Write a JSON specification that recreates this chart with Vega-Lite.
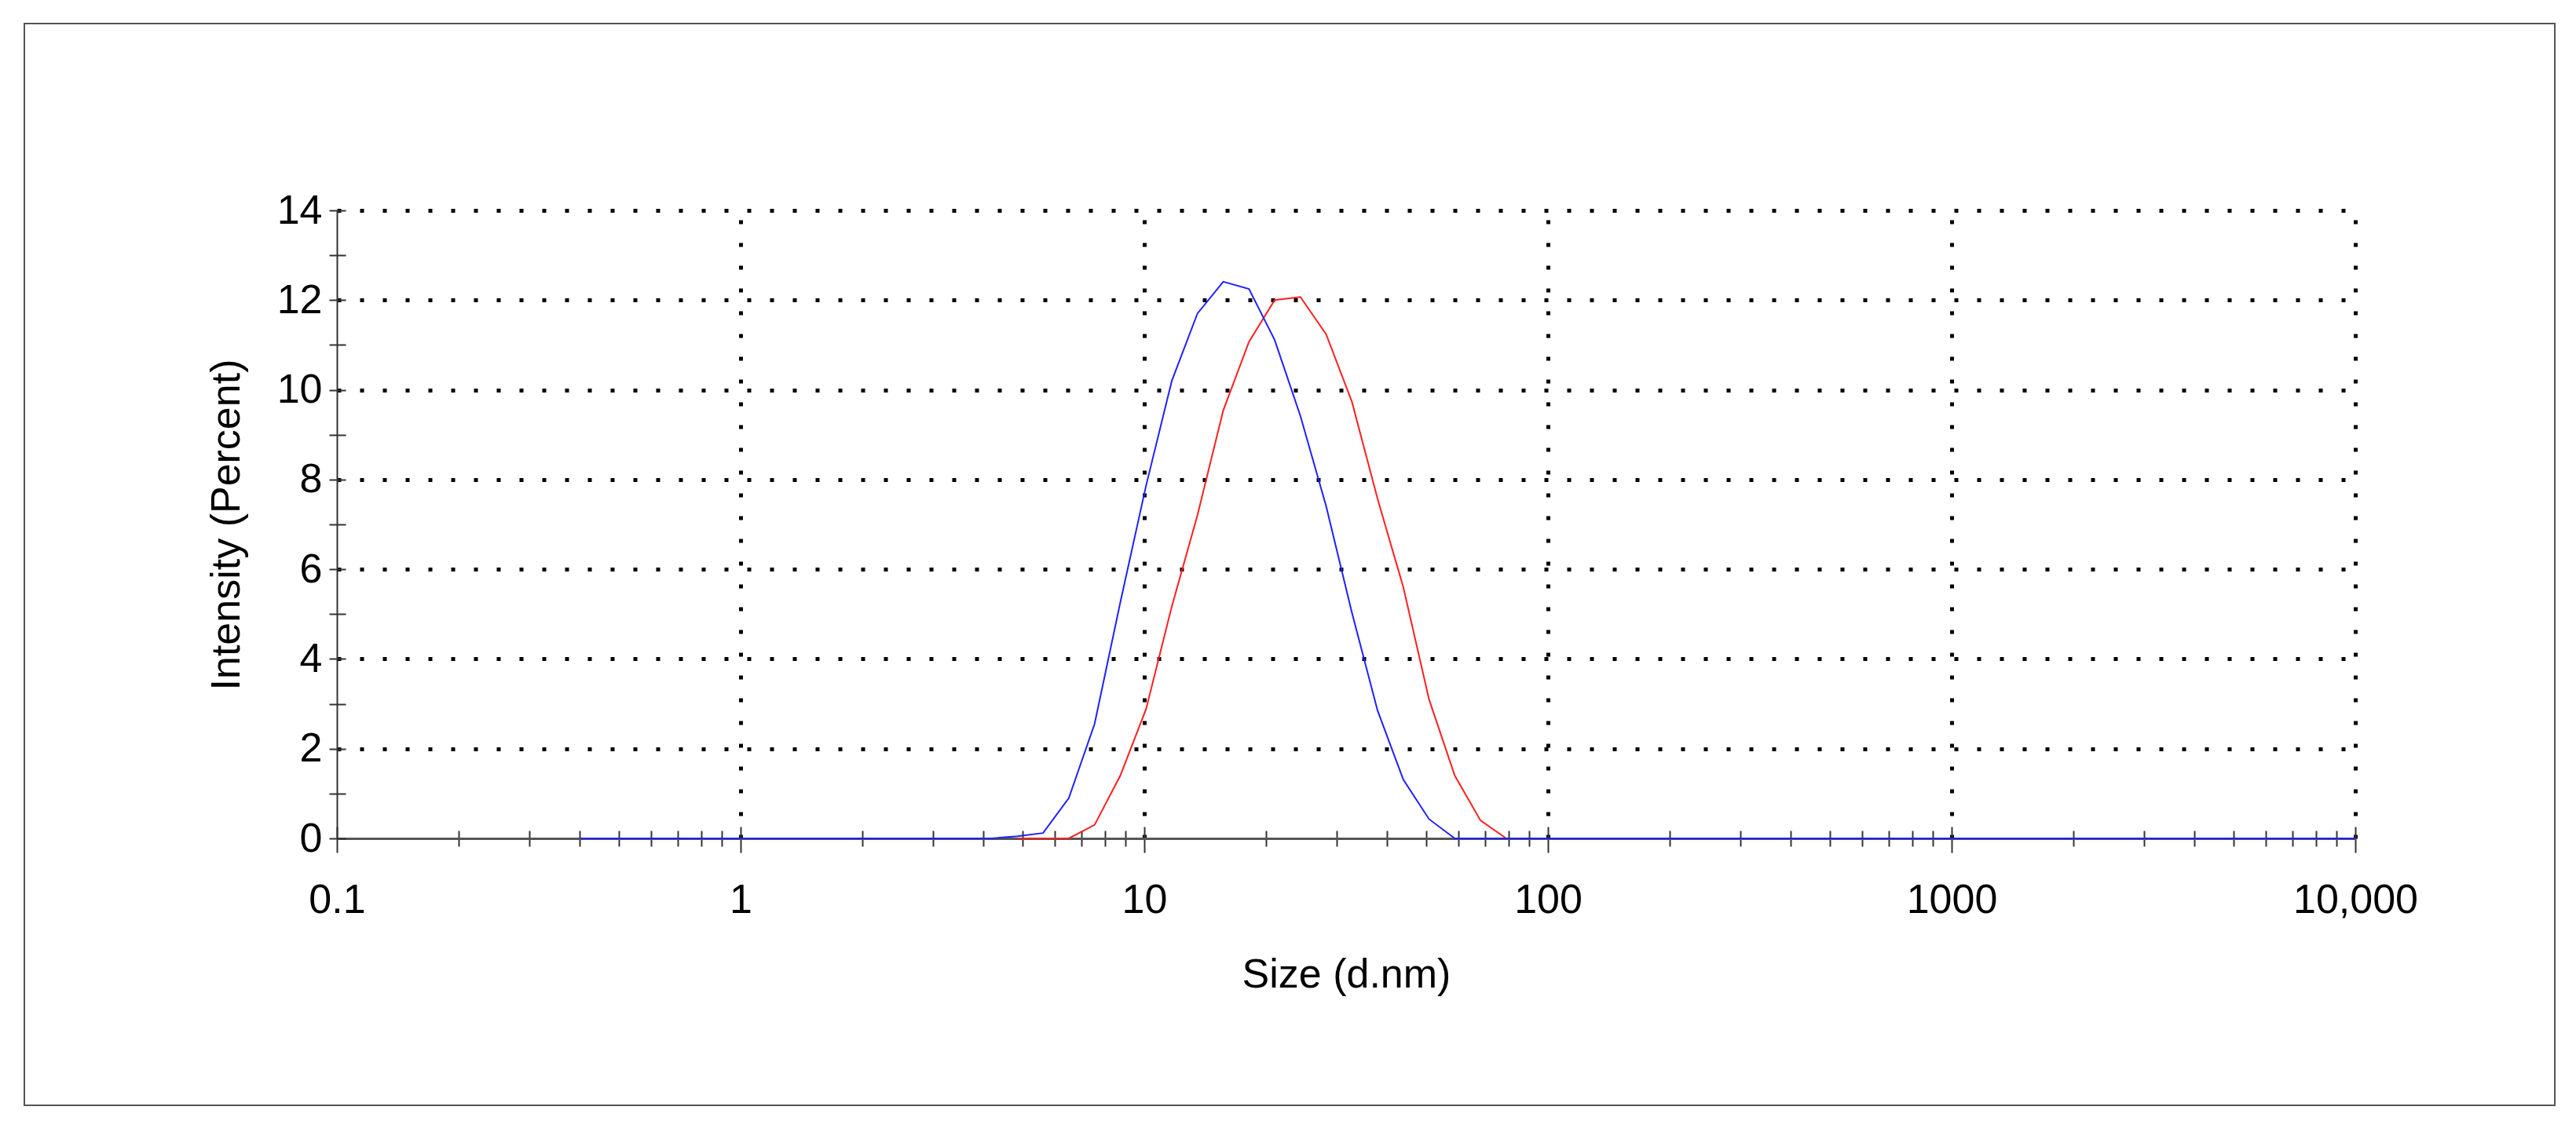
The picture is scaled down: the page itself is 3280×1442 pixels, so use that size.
{
  "$schema": "https://vega.github.io/schema/vega-lite/v6.json",
  "width": 3222,
  "height": 1378,
  "autosize": {"type": "none"},
  "padding": {"left": 31, "top": 30, "right": 27, "bottom": 34},
  "background": "white",
  "config": {
    "view": {"stroke": "#555555", "strokeWidth": 2},
    "font": "Liberation Sans",
    "axis": {"labelFont": "Liberation Sans", "titleFont": "Liberation Sans", "labelColor": "#000000", "titleColor": "#000000"}
  },
  "data": {
    "values": [
      {"series": "Red", "size": 4.849, "intensity": 0},
      {"series": "Red", "size": 5.615, "intensity": 0},
      {"series": "Red", "size": 6.503, "intensity": 0},
      {"series": "Red", "size": 7.531, "intensity": 0.3},
      {"series": "Red", "size": 8.721, "intensity": 1.4},
      {"series": "Red", "size": 10.1, "intensity": 2.88},
      {"series": "Red", "size": 11.7, "intensity": 5.17},
      {"series": "Red", "size": 13.54, "intensity": 7.2},
      {"series": "Red", "size": 15.69, "intensity": 9.54},
      {"series": "Red", "size": 18.17, "intensity": 11.07},
      {"series": "Red", "size": 21.04, "intensity": 12.0},
      {"series": "Red", "size": 24.36, "intensity": 12.07},
      {"series": "Red", "size": 28.21, "intensity": 11.24},
      {"series": "Red", "size": 32.67, "intensity": 9.74},
      {"series": "Red", "size": 37.84, "intensity": 7.57},
      {"series": "Red", "size": 43.82, "intensity": 5.6},
      {"series": "Red", "size": 50.75, "intensity": 3.1},
      {"series": "Red", "size": 58.77, "intensity": 1.4},
      {"series": "Red", "size": 68.06, "intensity": 0.4},
      {"series": "Red", "size": 78.82, "intensity": 0},
      {"series": "Blue", "size": 0.4, "intensity": 0},
      {"series": "Blue", "size": 0.4632, "intensity": 0},
      {"series": "Blue", "size": 0.5365, "intensity": 0},
      {"series": "Blue", "size": 0.6213, "intensity": 0},
      {"series": "Blue", "size": 0.7195, "intensity": 0},
      {"series": "Blue", "size": 0.8332, "intensity": 0},
      {"series": "Blue", "size": 0.9649, "intensity": 0},
      {"series": "Blue", "size": 1.117, "intensity": 0},
      {"series": "Blue", "size": 1.294, "intensity": 0},
      {"series": "Blue", "size": 1.499, "intensity": 0},
      {"series": "Blue", "size": 1.736, "intensity": 0},
      {"series": "Blue", "size": 2.01, "intensity": 0},
      {"series": "Blue", "size": 2.328, "intensity": 0},
      {"series": "Blue", "size": 2.696, "intensity": 0},
      {"series": "Blue", "size": 3.122, "intensity": 0},
      {"series": "Blue", "size": 3.615, "intensity": 0},
      {"series": "Blue", "size": 4.187, "intensity": 0},
      {"series": "Blue", "size": 4.849, "intensity": 0.05},
      {"series": "Blue", "size": 5.615, "intensity": 0.12},
      {"series": "Blue", "size": 6.503, "intensity": 0.9},
      {"series": "Blue", "size": 7.531, "intensity": 2.55},
      {"series": "Blue", "size": 8.721, "intensity": 5.26},
      {"series": "Blue", "size": 10.1, "intensity": 7.86},
      {"series": "Blue", "size": 11.7, "intensity": 10.2},
      {"series": "Blue", "size": 13.54, "intensity": 11.7},
      {"series": "Blue", "size": 15.69, "intensity": 12.41},
      {"series": "Blue", "size": 18.17, "intensity": 12.25},
      {"series": "Blue", "size": 21.04, "intensity": 11.11},
      {"series": "Blue", "size": 24.36, "intensity": 9.42},
      {"series": "Blue", "size": 28.21, "intensity": 7.41},
      {"series": "Blue", "size": 32.67, "intensity": 5.04},
      {"series": "Blue", "size": 37.84, "intensity": 2.85},
      {"series": "Blue", "size": 43.82, "intensity": 1.31},
      {"series": "Blue", "size": 50.75, "intensity": 0.43},
      {"series": "Blue", "size": 58.77, "intensity": 0},
      {"series": "Blue", "size": 68.06, "intensity": 0},
      {"series": "Blue", "size": 78.82, "intensity": 0},
      {"series": "Blue", "size": 91.28, "intensity": 0},
      {"series": "Blue", "size": 105.7, "intensity": 0},
      {"series": "Blue", "size": 122.4, "intensity": 0},
      {"series": "Blue", "size": 141.8, "intensity": 0},
      {"series": "Blue", "size": 164.2, "intensity": 0},
      {"series": "Blue", "size": 190.1, "intensity": 0},
      {"series": "Blue", "size": 220.2, "intensity": 0},
      {"series": "Blue", "size": 255.0, "intensity": 0},
      {"series": "Blue", "size": 295.3, "intensity": 0},
      {"series": "Blue", "size": 342.0, "intensity": 0},
      {"series": "Blue", "size": 396.1, "intensity": 0},
      {"series": "Blue", "size": 458.7, "intensity": 0},
      {"series": "Blue", "size": 531.2, "intensity": 0},
      {"series": "Blue", "size": 615.1, "intensity": 0},
      {"series": "Blue", "size": 712.4, "intensity": 0},
      {"series": "Blue", "size": 825.0, "intensity": 0},
      {"series": "Blue", "size": 955.4, "intensity": 0},
      {"series": "Blue", "size": 1106, "intensity": 0},
      {"series": "Blue", "size": 1281, "intensity": 0},
      {"series": "Blue", "size": 1484, "intensity": 0},
      {"series": "Blue", "size": 1718, "intensity": 0},
      {"series": "Blue", "size": 1990, "intensity": 0},
      {"series": "Blue", "size": 2305, "intensity": 0},
      {"series": "Blue", "size": 2669, "intensity": 0},
      {"series": "Blue", "size": 3091, "intensity": 0},
      {"series": "Blue", "size": 3580, "intensity": 0},
      {"series": "Blue", "size": 4145, "intensity": 0},
      {"series": "Blue", "size": 4801, "intensity": 0},
      {"series": "Blue", "size": 5560, "intensity": 0},
      {"series": "Blue", "size": 6439, "intensity": 0},
      {"series": "Blue", "size": 7456, "intensity": 0},
      {"series": "Blue", "size": 8635, "intensity": 0},
      {"series": "Blue", "size": 10000, "intensity": 0}
    ]
  },
  "resolve": {"axis": {"x": "independent", "y": "independent"}},
  "layer": [
    {
      "transform": [{"filter": "datum.series == 'Red'"}],
      "mark": {"type": "line", "color": "#ff1f1f", "strokeWidth": 2, "clip": false},
      "encoding": {
        "x": {
          "field": "size", "type": "quantitative",
          "scale": {"type": "log", "domain": [0.1, 10000], "range": [398, 2968], "nice": false},
          "axis": {
            "orient": "top", "offset": -1038, "zindex": 0,
            "values": [0.1, 0.2, 0.3, 0.4, 0.5, 0.6, 0.7, 0.8, 0.9, 1, 2, 3, 4, 5, 6, 7, 8, 9, 10, 20, 30, 40, 50, 60, 70, 80, 90, 100, 200, 300, 400, 500, 600, 700, 800, 900, 1000, 2000, 3000, 4000, 5000, 6000, 7000, 8000, 9000, 10000],
            "domain": false, "labels": false, "title": null,
            "tickColor": "#333333", "tickWidth": 2,
            "tickSize": {"condition": {"test": "indexof([0.1,1,10,100,1000,10000], datum.value) >= 0", "value": 15}, "value": 10},
            "grid": true, "gridColor": "#000000", "gridWidth": 5, "gridDash": [5, 24],
            "gridOpacity": {"condition": {"test": "indexof([1,10,100,1000,10000], datum.value) >= 0", "value": 1}, "value": 0}
          }
        },
        "y": {
          "field": "intensity", "type": "quantitative",
          "scale": {"domain": [0, 14], "range": [1038, 238], "nice": false, "zero": true},
          "axis": {
            "orient": "left", "offset": -398, "zindex": 0,
            "values": [0, 1, 2, 3, 4, 5, 6, 7, 8, 9, 10, 11, 12, 13, 14],
            "domain": false, "labels": false, "grid": false, "title": null,
            "tickColor": "#333333", "tickWidth": 2, "tickSize": -11
          }
        }
      }
    },
    {
      "transform": [{"filter": "datum.series == 'Blue'"}],
      "mark": {"type": "line", "color": "#2020ff", "strokeWidth": 2, "clip": false},
      "encoding": {
        "x": {
          "field": "size", "type": "quantitative",
          "scale": {"type": "log", "domain": [0.1, 10000], "range": [398, 2968], "nice": false},
          "axis": {
            "orient": "bottom", "offset": -340, "zindex": 0,
            "values": [0.1, 0.2, 0.3, 0.4, 0.5, 0.6, 0.7, 0.8, 0.9, 1, 2, 3, 4, 5, 6, 7, 8, 9, 10, 20, 30, 40, 50, 60, 70, 80, 90, 100, 200, 300, 400, 500, 600, 700, 800, 900, 1000, 2000, 3000, 4000, 5000, 6000, 7000, 8000, 9000, 10000],
            "domain": true, "domainColor": "#555555", "domainWidth": 3,
            "tickColor": "#333333", "tickWidth": 2,
            "tickSize": {"condition": {"test": "indexof([0.1,1,10,100,1000,10000], datum.value) >= 0", "value": 18}, "value": 10},
            "labelExpr": "datum.value == 0.1 ? '0.1' : datum.value == 1 ? '1' : datum.value == 10 ? '10' : datum.value == 100 ? '100' : datum.value == 1000 ? '1000' : datum.value == 10000 ? '10,000' : ''",
            "labelFontSize": 52, "labelPadding": 35, "labelOverlap": false, "labelFlush": false, "labelBound": false,
            "grid": false,
            "title": "Size (d.nm)", "titleFontSize": 52, "titleFontWeight": "normal", "titlePadding": 44
          }
        },
        "y": {
          "field": "intensity", "type": "quantitative",
          "scale": {"domain": [0, 14], "range": [1038, 238], "nice": false, "zero": true},
          "axis": {
            "orient": "left", "offset": -398, "zindex": 0,
            "values": [0, 1, 2, 3, 4, 5, 6, 7, 8, 9, 10, 11, 12, 13, 14],
            "domain": true, "domainColor": "#333333", "domainWidth": 2,
            "tickColor": "#333333", "tickWidth": 2, "tickSize": 10,
            "labelExpr": "datum.value % 2 == 0 ? datum.label : ''",
            "labelFontSize": 52, "labelPadding": 9, "labelOverlap": false, "labelBound": false,
            "grid": true, "gridColor": "#000000", "gridWidth": 5, "gridDash": [5, 24],
            "gridOpacity": {"condition": {"test": "datum.value % 2 == 0 && datum.value > 0", "value": 1}, "value": 0},
            "title": "Intensity (Percent)", "titleFontSize": 52, "titleFontWeight": "normal", "titlePadding": 37
          }
        }
      }
    }
  ]
}
